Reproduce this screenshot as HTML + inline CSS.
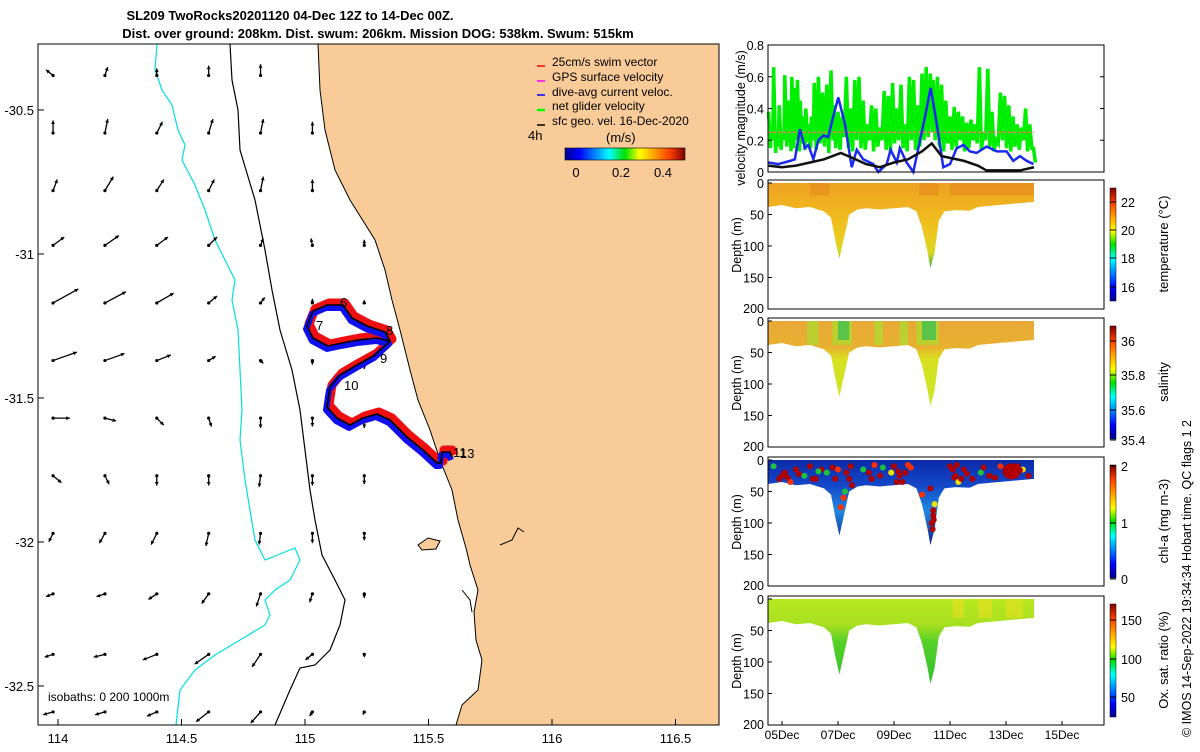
<!DOCTYPE html>
<html><head><meta charset="utf-8">
<style>
html,body{margin:0;padding:0;background:#fff;}
body{width:1200px;height:747px;overflow:hidden;font-family:"Liberation Sans","DejaVu Sans",sans-serif;}
svg text{font-family:"Liberation Sans","DejaVu Sans",sans-serif;}
</style></head>
<body>
<svg id="root" width="1200" height="747" viewBox="0 0 1200 747" xmlns="http://www.w3.org/2000/svg">
<defs>
<linearGradient id="jet" x1="0" x2="1" y1="0" y2="0">
<stop offset="0" stop-color="#00008f"/><stop offset="0.12" stop-color="#0000ff"/><stop offset="0.37" stop-color="#00ffff"/><stop offset="0.5" stop-color="#00e000"/><stop offset="0.62" stop-color="#ffff00"/><stop offset="0.87" stop-color="#ff4000"/><stop offset="1" stop-color="#800000"/>
</linearGradient>
<linearGradient id="jetv" x1="0" x2="0" y1="1" y2="0">
<stop offset="0" stop-color="#00008f"/><stop offset="0.12" stop-color="#0000ff"/><stop offset="0.37" stop-color="#00ffff"/><stop offset="0.5" stop-color="#00e000"/><stop offset="0.62" stop-color="#ffff00"/><stop offset="0.87" stop-color="#ff4000"/><stop offset="1" stop-color="#800000"/>
</linearGradient>
<linearGradient id="gT" x1="0" x2="0" y1="0" y2="1">
<stop offset="0" stop-color="#eea222"/><stop offset="0.3" stop-color="#f0b420"/><stop offset="0.6" stop-color="#eec820"/><stop offset="0.82" stop-color="#d8d820"/><stop offset="1" stop-color="#30b040"/>
</linearGradient>
<linearGradient id="gS" x1="0" x2="0" y1="0" y2="1">
<stop offset="0" stop-color="#e8a838"/><stop offset="0.3" stop-color="#e8b030"/><stop offset="0.45" stop-color="#d8e020"/><stop offset="1" stop-color="#c8e828"/>
</linearGradient>
<linearGradient id="gC" x1="0" x2="0" y1="0" y2="1">
<stop offset="0" stop-color="#0a2aa8"/><stop offset="0.3" stop-color="#1448c8"/><stop offset="0.6" stop-color="#2088e0"/><stop offset="1" stop-color="#0a2090"/>
</linearGradient>
<linearGradient id="gO" x1="0" x2="0" y1="0" y2="1">
<stop offset="0" stop-color="#b8e820"/><stop offset="0.3" stop-color="#a8e020"/><stop offset="0.5" stop-color="#58d028"/><stop offset="1" stop-color="#30c030"/>
</linearGradient>
</defs>

<text x="290" y="20" font-size="13" font-weight="bold" text-anchor="middle">SL209 TwoRocks20201120 04-Dec 12Z to 14-Dec 00Z.</text>
<text x="378" y="38" font-size="13" font-weight="bold" text-anchor="middle">Dist. over ground: 208km. Dist. swum: 206km. Mission DOG: 538km. Swum: 515km</text>

<g id="map">
<rect x="38" y="44" width="681" height="681" fill="#fff"/>
<g id="mapContent"></g>
<rect x="38" y="44" width="681" height="681" fill="none" stroke="#000" stroke-width="1"/>
<g id="mapAxes"></g>
<text x="48" y="701" font-size="12">isobaths: 0   200  1000m</text>
<g font-size="12">
<line x1="537" y1="66" x2="545" y2="66" stroke="#f00" stroke-width="1.5"/><text x="552" y="66">25cm/s swim vector</text>
<line x1="537" y1="81" x2="545" y2="81" stroke="#f0f" stroke-width="1.5"/><text x="552" y="81">GPS surface velocity</text>
<line x1="537" y1="95" x2="545" y2="95" stroke="#00f" stroke-width="1.5"/><text x="552" y="96">dive-avg current veloc.</text>
<line x1="537" y1="110" x2="545" y2="110" stroke="#0f0" stroke-width="2.5"/><text x="552" y="110">net glider velocity</text>
<line x1="537" y1="125" x2="545" y2="125" stroke="#000" stroke-width="1.5"/><text x="552" y="125">sfc geo. vel. 16-Dec-2020</text>
<text x="528" y="140" font-size="13">4h</text>
<text x="606" y="142" font-size="13">(m/s)</text>
<rect x="565" y="148" width="120" height="12" fill="url(#jet)" stroke="#000" stroke-width="0.6"/>
<text x="576" y="177" font-size="13" text-anchor="middle">0</text>
<text x="621" y="177" font-size="13" text-anchor="middle">0.2</text>
<text x="663" y="177" font-size="13" text-anchor="middle">0.4</text>
</g>
</g>

<g id="right"></g>

<text font-size="12.5" transform="translate(1191,737) rotate(-90)">© IMOS 14-Sep-2022 19:34:34 Hobart time. QC flags 1  2</text>
</svg>

<script>
const blueT = [4.51,4.87,5.29,5.46,5.64,5.82,5.94,6.12,6.30,6.48,6.65,6.83,7.01,7.25,7.49,7.67,7.90,8.26,8.44,8.74,8.88,9.10,9.21,9.45,9.69,9.93,10.11,10.31,10.53,10.76,11.00,11.24,11.48,11.71,11.95,12.31,12.67,13.02,13.26,13.50,13.74,13.98];
const blueV = [0.06,0.05,0.07,0.08,0.27,0.15,0.17,0.08,0.20,0.23,0.22,0.35,0.47,0.30,0.03,0.14,0.08,0.05,0.00,0.05,0.14,0.06,0.15,0.06,0.00,0.20,0.35,0.53,0.30,0.03,0.05,0.15,0.17,0.13,0.12,0.16,0.13,0.13,0.07,0.10,0.07,0.05];
const blackT = [4.5,5.0,5.5,6.0,6.5,7.1,7.5,8.0,8.5,9.0,9.5,10.0,10.35,10.7,11.5,12.0,12.3,13.0,13.5,14.0];
const blackV = [0.04,0.03,0.04,0.06,0.08,0.12,0.09,0.05,0.03,0.06,0.08,0.13,0.18,0.10,0.07,0.04,0.01,0.01,0.01,0.03];
const greenT = [4.52,4.6,4.7,4.8,4.9,5.0,5.1,5.25,5.35,5.45,5.55,5.65,5.75,5.85,5.95,6.05,6.15,6.3,6.45,6.6,6.75,6.85,7.0,7.15,7.3,7.45,7.6,7.75,7.9,8.05,8.2,8.35,8.5,8.65,8.8,8.95,9.1,9.25,9.4,9.55,9.7,9.85,10.0,10.15,10.3,10.4,10.55,10.7,10.85,11.0,11.15,11.3,11.45,11.6,11.75,11.9,12.05,12.2,12.35,12.5,12.65,12.8,12.95,13.1,13.25,13.4,13.55,13.7,13.85,13.98];
const greenHi = [0.38,0.25,0.66,0.2,0.42,0.25,0.61,0.45,0.6,0.53,0.58,0.45,0.35,0.4,0.3,0.35,0.56,0.6,0.5,0.55,0.64,0.42,0.38,0.35,0.6,0.4,0.58,0.6,0.45,0.3,0.42,0.4,0.28,0.51,0.48,0.56,0.4,0.55,0.3,0.6,0.58,0.42,0.62,0.66,0.62,0.58,0.6,0.55,0.45,0.35,0.41,0.38,0.35,0.31,0.33,0.3,0.66,0.25,0.65,0.38,0.2,0.5,0.48,0.42,0.35,0.3,0.28,0.4,0.3,0.15];
const greenLo = [0.15,0.2,0.12,0.18,0.14,0.2,0.16,0.13,0.15,0.2,0.13,0.18,0.14,0.19,0.15,0.2,0.14,0.18,0.16,0.12,0.2,0.15,0.14,0.22,0.15,0.13,0.2,0.15,0.14,0.2,0.13,0.16,0.2,0.14,0.12,0.18,0.2,0.15,0.13,0.2,0.14,0.16,0.2,0.22,0.25,0.2,0.16,0.13,0.18,0.14,0.16,0.2,0.13,0.15,0.2,0.18,0.14,0.2,0.16,0.13,0.18,0.2,0.15,0.13,0.16,0.14,0.2,0.13,0.15,0.06];
const secT = [4.5,5.0,5.5,6.0,6.5,6.75,6.9,7.05,7.2,7.4,7.7,8.0,8.5,9.0,9.5,9.8,10.0,10.2,10.3,10.45,10.6,10.8,11.2,11.7,12.0,12.5,13.0,13.5,14.0];
const secD = [38,35,40,38,45,55,90,120,90,50,42,40,42,40,38,45,70,110,135,110,60,45,43,44,38,36,34,32,30];
const chlT = [4.7,4.9,5.1,5.3,5.5,5.8,6.0,6.2,6.4,6.6,6.9,7.0,7.1,7.2,7.3,7.5,7.9,8.2,8.5,8.9,9.0,9.2,9.3,9.6,10.0,10.3,10.4,10.42,10.38,10.45,11.0,11.2,11.3,11.5,11.8,12.1,12.4,12.8,13.0,13.1,13.2,13.3,13.4,13.6,13.8,5.2,5.6,6.3,6.8,7.4,7.45,8.1,8.6,9.1,9.4,9.5,11.1,11.15,11.25,11.4,12.2,12.6,13.05,13.15,13.25,13.35,13.5,10.35,10.4,7.25,6.1,5.0,8.3,9.15,11.6];
const chlD = [10,30,20,35,15,25,10,30,15,20,30,15,75,60,20,40,15,30,25,20,10,25,35,12,55,45,80,95,110,70,10,25,35,15,30,20,25,10,20,15,25,20,10,15,25,28,22,18,12,30,10,20,12,35,20,8,15,28,8,30,12,28,18,22,14,24,16,100,88,50,30,25,8,18,22];
const chlV = [1.2,2,2,1.5,2,1,2,2,2,1,2,1.5,1.6,1.8,2,2,1.2,2,2,1.3,2,2,2,1.5,1.7,2,2,2,2,1.3,2,2,1.3,2,2,1.2,2,1.6,2,2,2,2,2,1.3,2,2,2,1.2,2,2,2,2,1.2,2,2,1.5,2,2,2,2,2,2,2,2,2,2,2,2,2,1.2,2,2,1.5,2,2];
const vecLon = [113.98,114.19,114.4,114.61,114.82,115.03,115.24,115.45];
const vecLat = [-30.38,-30.58,-30.78,-30.97,-31.17,-31.37,-31.57,-31.77,-31.97,-32.18,-32.39,-32.59];
const vecU = [
[-0.05,0.02,0.0,0.0,0.0,0,0,0],
[0.0,0.02,0.04,0.03,0.02,0.0,0,0],
[0.03,0.06,0.05,0.04,0.02,0.0,0,0],
[0.08,0.1,0.08,0.06,0.02,-0.01,0.0,0],
[0.18,0.15,0.12,0.06,0.03,0.0,0.0,0],
[0.17,0.14,0.1,0.05,0.02,0.0,0.0,0],
[0.12,0.08,0.05,0.02,0.0,0.0,0.0,0],
[0.06,0.03,0.0,0.0,-0.01,0.0,0.0,0],
[-0.03,-0.04,-0.04,-0.02,-0.01,0.0,0.0,0],
[-0.05,-0.06,-0.06,-0.05,-0.03,-0.02,0,0],
[-0.06,-0.08,-0.1,-0.1,-0.06,-0.05,0,0],
[-0.07,-0.07,-0.07,-0.09,-0.07,-0.02,-0.01,0]];
const vecV = [
[0.04,0.06,0.05,0.07,0.08,0,0,0],
[0.09,0.1,0.08,0.1,0.1,0.08,0,0],
[0.08,0.1,0.08,0.08,0.1,0.08,0,0],
[0.06,0.07,0.06,0.06,0.05,0.05,0.04,0],
[0.1,0.08,0.07,0.05,0.04,0.03,0.02,0],
[0.06,0.05,0.04,0.03,-0.02,-0.03,-0.06,0],
[0.0,-0.02,-0.05,-0.06,-0.07,-0.06,-0.07,0],
[-0.05,-0.06,-0.07,-0.07,-0.08,-0.07,-0.06,0],
[-0.06,-0.07,-0.08,-0.09,-0.08,-0.07,-0.05,0],
[-0.02,-0.02,-0.04,-0.07,-0.09,-0.06,-0.03,0],
[-0.02,-0.02,-0.04,-0.07,-0.09,-0.04,-0.02,0],
[-0.02,-0.02,-0.03,-0.07,-0.08,-0.03,-0.02,0]];
const xTickLon = [114,114.5,115,115.5,116,116.5];
const yTickLat = [-30.5,-31,-31.5,-32,-32.5];

const NS='http://www.w3.org/2000/svg';
function mk(tag, attrs, parent, txt){
  const e=document.createElementNS(NS,tag);
  for(const k in attrs) e.setAttribute(k,attrs[k]);
  if(txt!==undefined) e.textContent=txt;
  parent.appendChild(e); return e;
}
const lon2x = l => 58 + (l-114)*247;
const lat2y = l => 110 + (-30.5-l)*288;

const mc=document.getElementById('mapContent');
const land = mk('path',{d:'M318,44 L719,44 L719,725 L456,725 L462,705 L478,690 L482,660 L476,640 L474,612 L478,590 L470,565 L466,548 L458,520 L452,490 L440,460 L430,430 L418,400 L410,370 L400,330 L392,300 L385,270 L375,240 L350,200 L335,170 L325,130 L320,90 Z',fill:'#f9cb98'},mc);


const coast = mk('path',{d:'M318,44 L320,90 L325,130 L335,170 L350,200 L375,240 L385,270 L392,300 L400,330 L410,370 L418,400 L430,430 L440,460 L452,490 L458,520 L466,548 L470,565 L478,590 L474,612 L476,640 L482,660 L478,690 L462,705 L456,725',fill:'none',stroke:'#000','stroke-width':1},mc);


const isl = mk('path',{d:'M418,545 L428,538 L440,541 L436,549 L422,550 Z',fill:'#f9cb98',stroke:'#000','stroke-width':1},mc);


const jet = mk('path',{d:'M500,545 L512,540 L518,528 L524,532 M462,590 L470,600 L472,612',fill:'none',stroke:'#000','stroke-width':1},mc);


const iso1000 = mk('path',{d:'M157,44 L155,70 L162,90 L172,105 L178,130 L185,145 L182,160 L195,185 L205,210 L215,240 L225,260 L235,280 L232,300 L238,330 L240,370 L242,410 L240,440 L245,480 L250,510 L255,540 L265,560 L295,548 L300,560 L290,580 L275,590 L265,600 L270,615 L265,625 L240,640 L215,655 L195,670 L180,690 L176,725',fill:'none',stroke:'#00e0e0','stroke-width':1.2},mc);


const iso200 = mk('path',{d:'M230,44 L232,80 L238,110 L240,150 L255,200 L265,250 L272,290 L280,330 L292,370 L300,410 L305,450 L310,490 L315,520 L322,555 L335,580 L345,600 L340,625 L330,650 L315,665 L300,668 L290,690 L275,725',fill:'none',stroke:'#000','stroke-width':1.2},mc);



for(let r=0;r<vecLat.length;r++){
  for(let c=0;c<vecLon.length;c++){
    const u=vecU[r][c], v=vecV[r][c];
    if(u===0 && v===0) continue;
    const x0=lon2x(vecLon[c]), y0=lat2y(vecLat[r]);
    const sc=140;
    const x1=x0+u*sc, y1=y0-v*sc;
    const g=mk('g',{},mc);
    
    
    mk('line',{x1:x0,y1:y0,x2:x1,y2:y1,stroke:'#000','stroke-width':1.3},g);
    const ang=Math.atan2(y1-y0,x1-x0);
    const h=4;
    mk('path',{d:`M${x1},${y1} L${x1-h*Math.cos(ang-0.5)},${y1-h*Math.sin(ang-0.5)} L${x1-h*Math.cos(ang+0.5)},${y1-h*Math.sin(ang+0.5)} Z`,fill:'#000'},g);
    mk('circle',{cx:x0,cy:y0,r:1.6,fill:'#000'},g);
  }
}
const trackPts = [[343,305],[352,318],[367,326],[385,332],[390,341],[377,338],[358,340],[342,343],[328,346],[313,338],[307,326],[313,311],[327,305],[343,305],[352,318],[367,326],[385,332],[390,341],[375,355],[357,365],[340,375],[330,387],[327,407],[337,418],[350,425],[363,418],[377,414],[390,420],[407,437],[423,450],[437,463],[441,463],[442,452],[450,452],[452,457]];
const tp = trackPts.map(p=>p.join(',')).join(' ');
const tr=mk('polyline',{points:trackPts.map(p=>(p[0]+2)+','+(p[1]-2)).join(' '),fill:'none',stroke:'#ee1010','stroke-width':9,'stroke-linejoin':'round'},mc);


const tb=mk('polyline',{points:trackPts.map(p=>(p[0]-1)+','+(p[1]+3)).join(' '),fill:'none',stroke:'#1010ee','stroke-width':6,'stroke-linejoin':'round'},mc);


const tk=mk('polyline',{points:tp,fill:'none',stroke:'#000','stroke-width':1.6,'stroke-linejoin':'round'},mc);


const dayLabels=[['6',340,307],['7',316,330],['8',386,335],['9',380,363],['10',344,390],['11',453,457],['13',460,458]];
dayLabels.forEach(d=>{
  const t=mk('text',{x:d[1],y:d[2],'font-size':13},mc,d[0]);
  
  
});

const ma=document.getElementById('mapAxes');
xTickLon.forEach(l=>{
  const x=lon2x(l);
  mk('line',{x1:x,y1:725,x2:x,y2:719,stroke:'#000'},ma);
  const t=mk('text',{x:x,y:743,'font-size':13,'text-anchor':'middle'},ma,String(l));
  
  
});
yTickLat.forEach(l=>{
  const y=lat2y(l);
  mk('line',{x1:38,y1:y,x2:44,y2:y,stroke:'#000'},ma);
  const t=mk('text',{x:34,y:y+5,'font-size':13,'text-anchor':'end'},ma,String(l));
  
  
});

const R=document.getElementById('right');
const PX0=768, PX1=1104;
const t2x = d => 768 + (d-4.5)*28;

const vTop=45, vBot=172;
const v2y = v => vBot - v/0.8*(vBot-vTop);
const vp=mk('g',{},R);


let gpts=[];
for(let i=0;i<greenT.length;i++){
  gpts.push(t2x(greenT[i])+','+v2y(greenHi[i]));
  gpts.push((t2x(greenT[i])+2)+','+v2y(greenLo[i]));
}
const gl=mk('polyline',{points:gpts.join(' '),fill:'none',stroke:'#00ee00','stroke-width':3.5},vp);


const rl=mk('line',{x1:t2x(4.5),x2:t2x(14),y1:v2y(0.25),y2:v2y(0.25),stroke:'#ff7070','stroke-width':1.5,'stroke-dasharray':'3,2'},vp);


const bl=mk('polyline',{points:blueT.map((t,i)=>t2x(t)+','+v2y(blueV[i])).join(' '),fill:'none',stroke:'#1a2aee','stroke-width':2.5},vp);


const kl=mk('polyline',{points:blackT.map((t,i)=>t2x(t)+','+v2y(blackV[i])).join(' '),fill:'none',stroke:'#111','stroke-width':2.5},vp);


mk('rect',{x:PX0,y:vTop,width:PX1-PX0,height:vBot-vTop,fill:'none',stroke:'#000'},vp);
const vTicks=[0,0.2,0.4,0.6,0.8];
vTicks.forEach(v=>{
  const y=v2y(v);
  mk('line',{x1:PX0,x2:PX0+4,y1:y,y2:y,stroke:'#000'},vp);
  mk('line',{x1:PX1,x2:PX1-4,y1:y,y2:y,stroke:'#000'},vp);
  const t=mk('text',{x:764,y:y+5,'font-size':12.5,'text-anchor':'end'},vp,String(v));
  
  
});
const vyl=mk('text',{'font-size':12.5,'text-anchor':'middle',transform:'translate(745,118) rotate(-90)'},vp,'velocity magnitude (m/s)');



const panels=[
 {top:180,name:'temperature',fill:'url(#gT)',cb:[[22,202],[20,230],[18,258],[16,287]],label:'temperature (°C)'},
 {top:318,name:'salinity',fill:'url(#gS)',cb:[[36,341],[35.8,375],[35.6,410],[35.4,440]],label:'salinity'},
 {top:457,name:'chlorophyll',fill:'url(#gC)',cb:[[2,466],[1,523],[0,579]],label:'chl-a (mg m-3)'},
 {top:596,name:'oxygen',fill:'url(#gO)',cb:[[150,620],[100,659],[50,697]],label:'Ox. sat. ratio (%)'}
];
const dTicks=[0,50,100,150,200];
const chlColor = v => v>=1.9?'#b00000':(v>=1.5?'#ff3000':(v>=1.25?'#f0e000':'#20c040'));
panels.forEach((p,pi)=>{
  const bot=p.top+129;
  const d2y = d => p.top+3 + d/200*(bot-p.top-3);
  const g=mk('g',{},R);
  
  
  let pts=[t2x(secT[0])+','+d2y(0)];
  secT.forEach((t,i)=>pts.push(t2x(t)+','+d2y(secD[i])));
  pts.push(t2x(secT[secT.length-1])+','+d2y(0));
  const poly=mk('polygon',{points:pts.join(' '),fill:p.fill},g);
  
  
  if(p.name==='temperature'){
    [[6.0,6.7],[9.9,10.6],[11.0,14.0]].forEach(s=>{
      mk('rect',{x:t2x(s[0]),y:d2y(0),width:t2x(s[1])-t2x(s[0]),height:d2y(20)-d2y(0),fill:'#e07818',opacity:0.35},g);
    });
  }
  if(p.name==='salinity'){
    [[5.9,6.3],[6.8,7.5],[8.3,8.6],[9.2,9.5],[9.8,10.6]].forEach(s=>{
      mk('rect',{x:t2x(s[0]),y:d2y(0),width:t2x(s[1])-t2x(s[0]),height:d2y(38)-d2y(0),fill:'#b0d830',opacity:0.8},g);
    });
    [[7.0,7.4],[10.0,10.5]].forEach(s=>{
      mk('rect',{x:t2x(s[0]),y:d2y(0),width:t2x(s[1])-t2x(s[0]),height:d2y(30)-d2y(0),fill:'#40c050',opacity:0.8},g);
    });
  }
  if(p.name==='oxygen'){
    [[11.1,11.5],[12.0,12.5],[13.0,13.6]].forEach(s=>{
      mk('rect',{x:t2x(s[0]),y:d2y(0),width:t2x(s[1])-t2x(s[0]),height:d2y(30)-d2y(0),fill:'#e8e020',opacity:0.6},g);
    });
  }
  if(p.name==='chlorophyll'){
    chlT.forEach((t,i)=>{
      const c=mk('circle',{cx:t2x(t),cy:d2y(chlD[i]),r:3,fill:chlColor(chlV[i])},g);
      
      
    });
    mk('ellipse',{cx:t2x(13.2),cy:d2y(18),rx:9,ry:8,fill:'#b00000'},g);
  }
  mk('rect',{x:PX0,y:p.top,width:PX1-PX0,height:bot-p.top,fill:'none',stroke:'#000'},g);
  dTicks.forEach(d=>{
    const y=d2y(d);
    mk('line',{x1:PX0,x2:PX0+4,y1:y,y2:y,stroke:'#000'},g);
    const t=mk('text',{x:764,y:Math.min(y+5,bot+4),'font-size':12.5,'text-anchor':'end'},g,String(d));
    
    
  });
  const yl=mk('text',{'font-size':12.5,'text-anchor':'middle',transform:`translate(741,${p.top+65}) rotate(-90)`},g,'Depth (m)');
  
  
  const cb=mk('rect',{x:1110,y:p.top+8,width:6,height:113,fill:'url(#jetv)',stroke:'#000','stroke-width':0.5},g);
  
  
  p.cb.forEach(c=>{
    mk('line',{x1:1110,x2:1116,y1:c[1],y2:c[1],stroke:'#000'},g);
    const t=mk('text',{x:1121,y:c[1]+5,'font-size':12.5},g,String(c[0]));
    
    
  });
  const cl=mk('text',{'font-size':13,'text-anchor':'middle',transform:`translate(1168,${p.top+64}) rotate(-90)`},g,p.label);
  
  
});
const dateTicks=[5,7,9,11,13,15];
const dateLabels=['05Dec','07Dec','09Dec','11Dec','13Dec','15Dec'];
dateTicks.forEach((d,i)=>{
  const x=t2x(d);
  mk('line',{x1:x,x2:x,y1:725,y2:721,stroke:'#000'},R);
  const t=mk('text',{x:x,y:739,'font-size':12,'text-anchor':'middle'},R,dateLabels[i]);
  
  
});
</script>
</body></html>
